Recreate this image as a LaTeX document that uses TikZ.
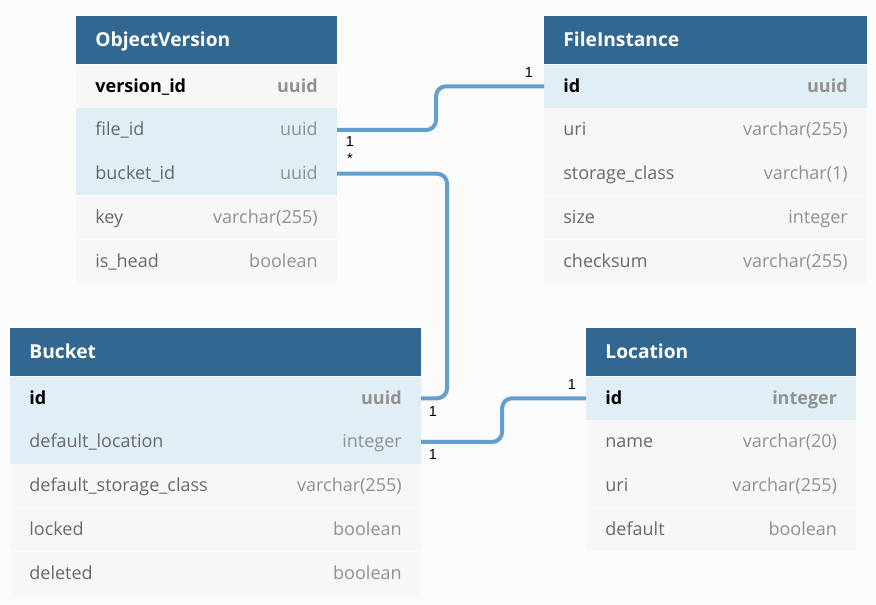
\documentclass[tikz,border=0pt]{standalone}
\usepackage{fontspec}
\setmainfont{Open Sans}
\newfontfamily\cardfont{Liberation Sans}
\usepackage{xcolor}
\usetikzlibrary{positioning}
\definecolor{pagebg}{RGB}{251,251,251}
\definecolor{hdrblue}{RGB}{50,103,145}
\definecolor{keyrow}{RGB}{224,238,245}
\definecolor{plainrow}{RGB}{247,247,247}
\definecolor{namegray}{RGB}{105,105,105}
\definecolor{typegray}{RGB}{145,145,145}
\definecolor{relblue}{RGB}{98,158,206}
\newcommand{\fld}[2]{{\color{namegray}#1}\hfill{\color{typegray}#2}}
\newcommand{\pk}[2]{{\bfseries\color{black}#1}\hfill{\bfseries\color{typegray}#2}}

\begin{document}
\begin{tikzpicture}[x=1pt,y=-1pt]
\tikzstyle{hdr}=[fill=hdrblue,text=white,inner xsep=19.2pt,inner ysep=0pt,minimum height=48pt,text height=17pt,text depth=5pt,font=\fontsize{19.2}{23}\selectfont\bfseries,align=left]
\tikzstyle{row}=[inner xsep=19.2pt,inner ysep=0pt,minimum height=43.33pt,text height=17pt,text depth=5pt,font=\fontsize{18}{22}\selectfont,align=left]
\tikzstyle{krow}=[row,fill=keyrow]
\tikzstyle{prow}=[row,fill=plainrow]
\tikzstyle{rel}=[draw=relblue,line width=4pt,rounded corners=10pt]
\tikzstyle{card}=[anchor=base,font=\cardfont\fontsize{14.5}{16}\selectfont,inner sep=0pt]
%
\useasboundingbox[fill=pagebg] (0,0) rectangle (876,605);
%
% ObjectVersion
\node[hdr,anchor=north west,text width=222.3pt](ovhdr) at (76,16){ObjectVersion};
\node[prow,text width=222.3pt,below=0pt of ovhdr](ovver){\pk{version\_id}{uuid}};
\node[krow,text width=222.3pt,below=0pt of ovver](ovfile){\fld{file\_id}{uuid}};
\node[krow,text width=222.3pt,below=0pt of ovfile](ovbucket){\fld{bucket\_id}{uuid}};
\node[prow,text width=222.3pt,below=0pt of ovbucket](ovkey){\fld{key}{varchar(255)}};
\node[prow,text width=222.3pt,below=0pt of ovkey](ovhead){\fld{is\_head}{boolean}};
%
% FileInstance
\node[hdr,anchor=north west,text width=284.3pt](fihdr) at (544,16){FileInstance};
\node[krow,text width=284.3pt,below=0pt of fihdr](fiid){\pk{id}{uuid}};
\node[prow,text width=284.3pt,below=0pt of fiid](fiuri){\fld{uri}{varchar(255)}};
\node[prow,text width=284.3pt,below=0pt of fiuri](ficlass){\fld{storage\_class}{varchar(1)}};
\node[prow,text width=284.3pt,below=0pt of ficlass](fisize){\fld{size}{integer}};
\node[prow,text width=284.3pt,below=0pt of fisize](fisum){\fld{checksum}{varchar(255)}};
%
% Bucket
\node[hdr,anchor=north west,text width=372.3pt](bkhdr) at (10,328){Bucket};
\node[krow,text width=372.3pt,below=0pt of bkhdr](bkid){\pk{id}{uuid}};
\node[krow,text width=372.3pt,below=0pt of bkid](bkloc){\fld{default\_location}{integer}};
\node[prow,text width=372.3pt,below=0pt of bkloc](bkclass){\fld{default\_storage\_class}{varchar(255)}};
\node[prow,text width=372.3pt,below=0pt of bkclass](bklock){\fld{locked}{boolean}};
\node[prow,text width=372.3pt,below=0pt of bklock](bkdel){\fld{deleted}{boolean}};
%
% Location
\node[hdr,anchor=north west,text width=231.6pt](lohdr) at (586,328){Location};
\node[krow,text width=231.6pt,below=0pt of lohdr](loid){\pk{id}{integer}};
\node[prow,text width=231.6pt,below=0pt of loid](loname){\fld{name}{varchar(20)}};
\node[prow,text width=231.6pt,below=0pt of loname](louri){\fld{uri}{varchar(255)}};
\node[prow,text width=231.6pt,below=0pt of louri](lodef){\fld{default}{boolean}};
%
% relations
\draw[rel] (ovfile.east) -- ++(99,0) |- (fiid.west);
\draw[rel] (ovbucket.east) -- ++(110,0) |- (bkid.east);
\draw[rel] (bkloc.east) -- ++(81,0) |- (loid.west);
%
\node[card](c1) at (350,146.7){1};
\node[card](c2) at (350,163){*};
\node[card](c3) at (529,77){1};
\node[card](c4) at (433,416){1};
\node[card](c5) at (433,459){1};
\node[card](c6) at (572,389){1};
\end{tikzpicture}
\end{document}
